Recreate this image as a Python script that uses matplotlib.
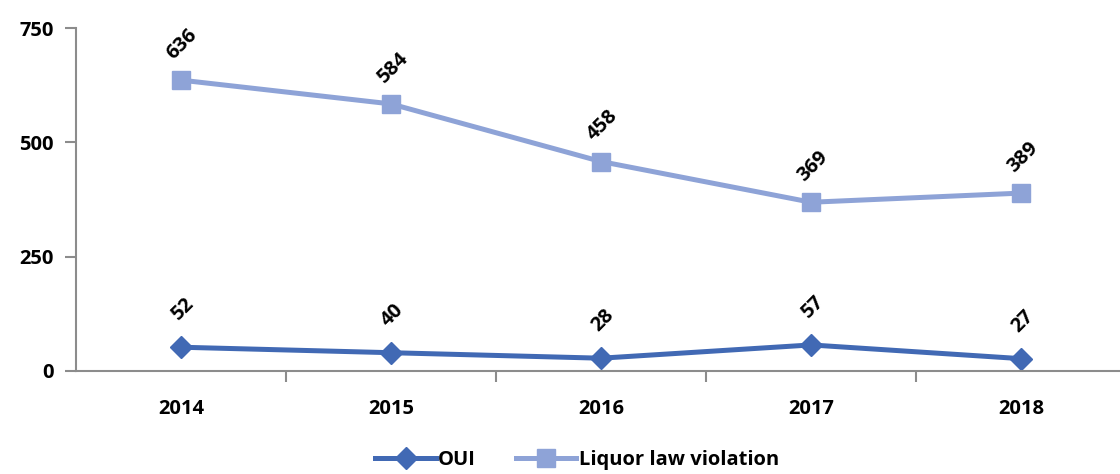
import matplotlib
matplotlib.use("Agg")
import matplotlib.pyplot as plt
import numpy as np

years = ["2014", "2015", "2016", "2017", "2018"]
oui = [52, 40, 28, 57, 27]
liquor = [636, 584, 458, 369, 389]

plt.rcParams["font.family"] = ["Open Sans", "DejaVu Sans"]
plt.rcParams["font.weight"] = "bold"

fig = plt.figure(figsize=(11.2, 4.74), dpi=100)
ax = fig.add_axes([76 / 1120, 103 / 474, 1 - 76 / 1120, 343 / 474])

x = np.arange(len(years))
ax.plot(x, oui, color="#4169B4", lw=3.6, marker="D", ms=11, label="OUI")
ax.plot(x, liquor, color="#8EA3D7", lw=3.6, marker="s", ms=12.5, label="Liquor law violation")

for xi, v in zip(x, oui):
    ax.annotate(str(v), (xi, v), xytext=(1, 27), textcoords="offset points",
                ha="center", va="center", rotation=45, fontsize=14.5, fontweight="bold")
for xi, v in zip(x, liquor):
    ax.annotate(str(v), (xi, v), xytext=(1, 26), textcoords="offset points",
                ha="center", va="center", rotation=45, fontsize=14.5, fontweight="bold")

ax.set_xlim(-0.5, 4.471)
ax.set_ylim(0, 750)
ax.set_yticks([0, 250, 500, 750])
ax.set_xticks(x)
ax.set_xticklabels(years)
ax.set_xticks(np.arange(0.5, 4.5, 1), minor=True)
ax.tick_params(axis="x", which="major", length=0, pad=20, labelsize=14.5)
ax.tick_params(axis="x", which="minor", length=8, width=1.5, color="#8c8c8c")
ax.tick_params(axis="y", length=8, width=1.5, color="#8c8c8c", pad=8, labelsize=14.5)

for s in ["top", "right"]:
    ax.spines[s].set_visible(False)
for s in ["left", "bottom"]:
    ax.spines[s].set_color("#8c8c8c")
    ax.spines[s].set_linewidth(1.5)

ax.legend(loc="center", bbox_to_anchor=(0.48, -0.26), ncol=2, frameon=False,
          fontsize=14.5, handlelength=3.0, columnspacing=2.0, handletextpad=0.1)

fig.savefig("out.png", dpi=100)
